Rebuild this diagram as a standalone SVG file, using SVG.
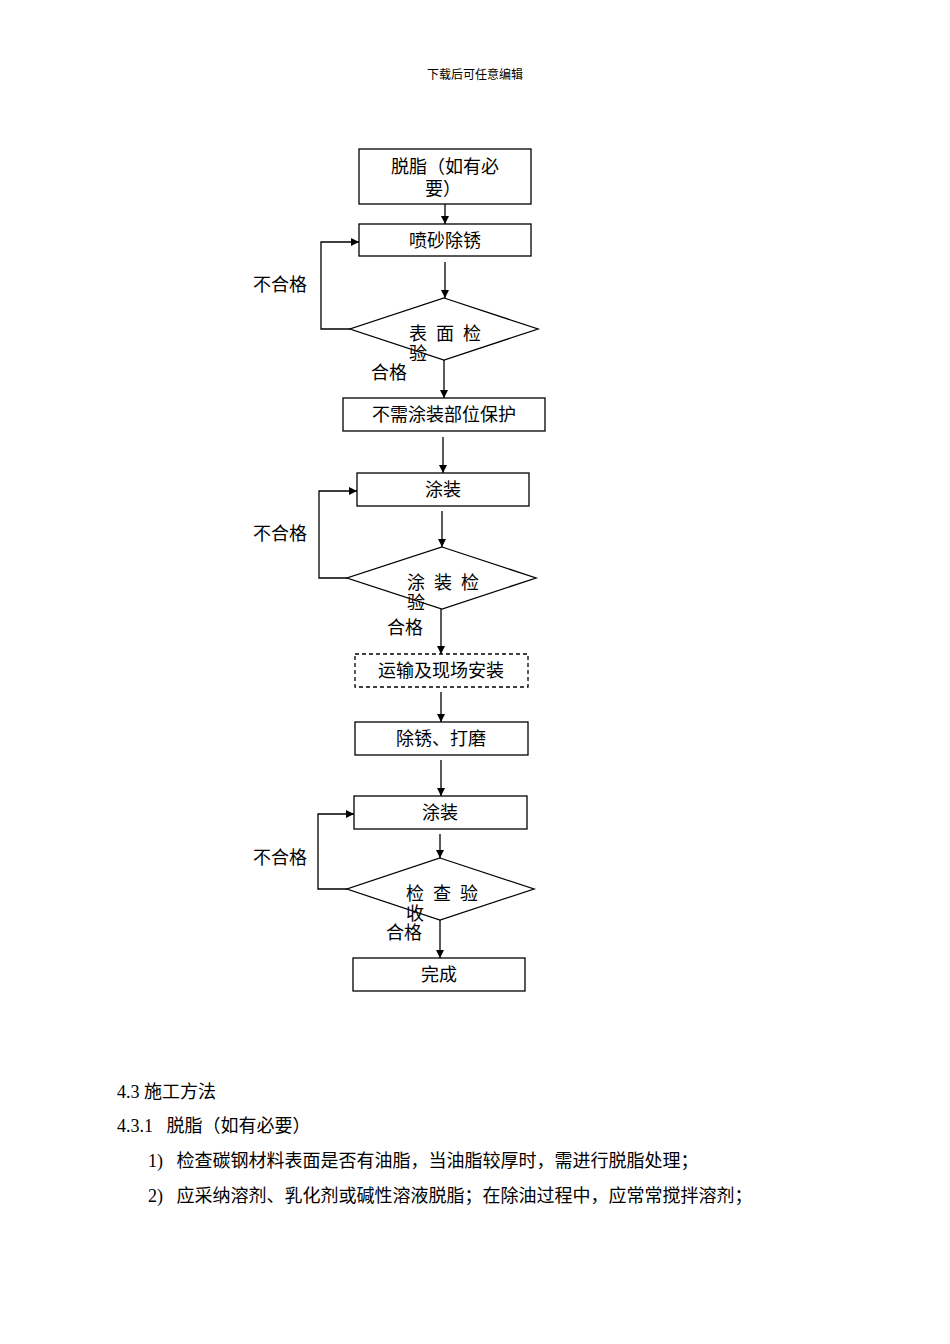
<svg xmlns="http://www.w3.org/2000/svg" width="950" height="1344" viewBox="0 0 950 1344">
<style>
text{font-family:"Liberation Serif","Noto Sans CJK SC",serif;fill:#000;white-space:pre}
.t{font-size:18px}
.c{text-anchor:middle}
.b{fill:#fff;stroke:#000;stroke-width:1.3}
.l{fill:none;stroke:#000;stroke-width:1.3}
.p{font-size:18px}
</style>
<defs><marker id="a" viewBox="0 0 10 10" refX="10" refY="5" markerWidth="8" markerHeight="8" orient="auto" markerUnits="userSpaceOnUse"><path d="M0,0L10,5L0,10z" fill="#000"/></marker></defs>
<rect width="950" height="1344" fill="#fff"/>
<text x="475" y="79" class="c" font-size="12">下载后可任意编辑</text>
<g id="connectors">
<path class="l" marker-end="url(#a)" d="M445,182V224"/>
<path class="l" marker-end="url(#a)" d="M445,262V298"/>
<path class="l" marker-end="url(#a)" d="M350,329H321V242H359"/>
<path class="l" marker-end="url(#a)" d="M444,360V398"/>
<path class="l" marker-end="url(#a)" d="M443,437V473"/>
<path class="l" marker-end="url(#a)" d="M442,511V547"/>
<path class="l" marker-end="url(#a)" d="M347,578H319V491H357"/>
<path class="l" marker-end="url(#a)" d="M441,609V654"/>
<path class="l" marker-end="url(#a)" d="M441,692V722"/>
<path class="l" marker-end="url(#a)" d="M441,760V796"/>
<path class="l" marker-end="url(#a)" d="M440,834V858"/>
<path class="l" marker-end="url(#a)" d="M347,889H318V814H354"/>
<path class="l" marker-end="url(#a)" d="M440,920V958"/>
<text x="280" y="291" class="t c">不合格</text>
<text x="389" y="379" class="t c">合格</text>
<text x="280" y="540" class="t c">不合格</text>
<text x="405" y="634" class="t c">合格</text>
<text x="280" y="864" class="t c">不合格</text>
<text x="404" y="939" class="t c">合格</text>
</g>
<g id="n1"><rect class="b" x="359" y="149" width="172" height="55"/><text x="445" y="173" class="t c">脱脂（如有必</text><text x="425" y="195" class="t">要）</text></g>
<g id="n2"><rect class="b" x="359" y="224" width="172" height="32"/><text x="445" y="247" class="t c">喷砂除锈</text></g>
<g id="n3"><polygon class="b" points="444,298 538,329 444,360 350,329"/><text x="409" y="340" class="t">表  面  检</text><text x="409" y="360" class="t">验</text></g>
<g id="n4"><rect class="b" x="343" y="398" width="202" height="33"/><text x="444" y="421" class="t c">不需涂装部位保护</text></g>
<g id="n5"><rect class="b" x="357" y="473" width="172" height="33"/><text x="443" y="496" class="t c">涂装</text></g>
<g id="n6"><polygon class="b" points="442,547 536,578 442,609 347,578"/><text x="407" y="589" class="t">涂  装  检</text><text x="407" y="609" class="t">验</text></g>
<g id="n7"><rect class="b" x="355" y="654" width="173" height="33" stroke-dasharray="4,3"/><text x="441" y="677" class="t c">运输及现场安装</text></g>
<g id="n8"><rect class="b" x="355" y="722" width="173" height="33"/><text x="441" y="745" class="t c">除锈、打磨</text></g>
<g id="n9"><rect class="b" x="354" y="796" width="173" height="33"/><text x="440" y="819" class="t c">涂装</text></g>
<g id="n10"><polygon class="b" points="440,858 534,889 440,920 347,889"/><text x="406" y="900" class="t">检  查  验</text><text x="406" y="920" class="t">收</text></g>
<g id="n11"><rect class="b" x="353" y="958" width="172" height="33"/><text x="439" y="981" class="t c">完成</text></g>
<text x="117" y="1098" class="p">4.3 施工方法</text>
<text x="117" y="1132" class="p">4.3.1   脱脂（如有必要）</text>
<text x="148" y="1167" class="p">1)   检查碳钢材料表面是否有油脂，当油脂较厚时，需进行脱脂处理；</text>
<text x="148" y="1202" class="p">2)   应采纳溶剂、乳化剂或碱性溶液脱脂；在除油过程中，应常常搅拌溶剂；</text>
</svg>
